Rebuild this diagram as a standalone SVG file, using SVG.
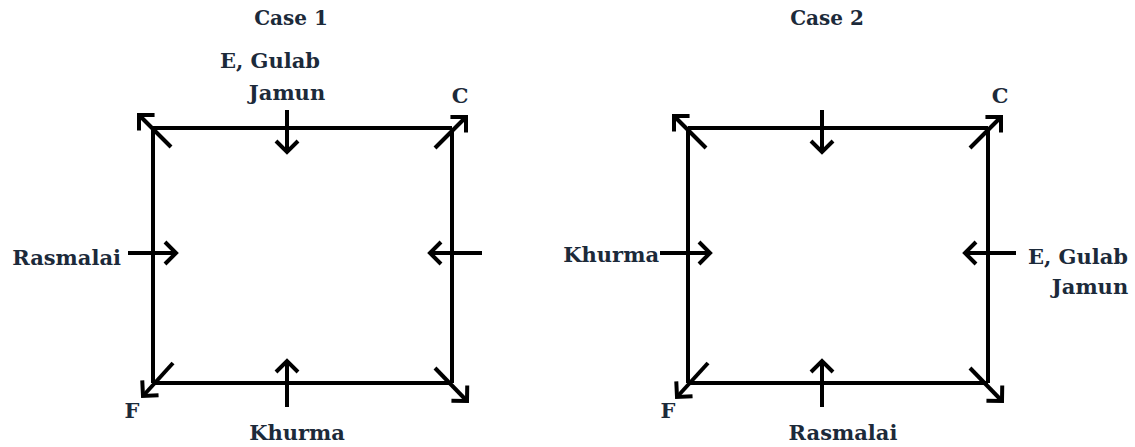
<svg xmlns="http://www.w3.org/2000/svg" width="1135" height="447" viewBox="0 0 1135 447">
<style>
.ln{stroke:#000;stroke-width:4;fill:none}
.ar{stroke:#000;stroke-width:4;fill:none;marker-end:url(#ah)}
text{font-family:"DejaVu Serif","Liberation Serif",serif;font-weight:bold;font-size:21px;fill:#1c2a3a}
.t{font-size:20px}
</style>
<defs>
<marker id="ah" markerUnits="userSpaceOnUse" viewBox="-14 -14 18 28" markerWidth="18" markerHeight="28" refX="0" refY="0" orient="auto" overflow="visible">
<path d="M-11,-11 L0,0 L-11,11" stroke="#000" stroke-width="4" fill="none" stroke-linejoin="miter"/>
</marker>
</defs>
<rect width="1135" height="447" fill="#fff"/>
<g id="connectors">
<path class="ln" d="M153,128 H452 M153,128 V383 M452,128 V383 M153,383 H452"/>
<line class="ar" x1="171" y1="147" x2="139" y2="115"/>
<line class="ar" x1="435" y1="148" x2="466" y2="117"/>
<line class="ar" x1="173" y1="363" x2="143" y2="396"/>
<line class="ar" x1="435" y1="368" x2="467" y2="401"/>
<line class="ar" x1="287" y1="110" x2="287" y2="152"/>
<line class="ar" x1="287" y1="407" x2="287" y2="361"/>
<line class="ar" x1="128" y1="253" x2="176" y2="253"/>
<line class="ar" x1="482" y1="253" x2="430" y2="253"/>
<path class="ln" d="M688,128 H988 M688,128 V383 M988,128 V383 M688,383 H988"/>
<line class="ar" x1="706" y1="148" x2="674" y2="116"/>
<line class="ar" x1="970" y1="148" x2="1001" y2="117"/>
<line class="ar" x1="708" y1="363" x2="677" y2="397"/>
<line class="ar" x1="970" y1="368" x2="1002" y2="401"/>
<line class="ar" x1="822" y1="110" x2="822" y2="152"/>
<line class="ar" x1="822" y1="407" x2="822" y2="361"/>
<line class="ar" x1="660" y1="253" x2="710" y2="253"/>
<line class="ar" x1="1016" y1="253" x2="965" y2="253"/>
</g>
<g id="case1-title"><text class="t" x="291" y="25" text-anchor="middle">Case 1</text></g>
<g id="case1-top"><text x="270" y="68" text-anchor="middle">E, Gulab</text><text x="287" y="100" text-anchor="middle">Jamun</text></g>
<g id="case1-C"><text x="460" y="103" text-anchor="middle">C</text></g>
<g id="case1-left"><text x="121" y="265" text-anchor="end">Rasmalai</text></g>
<g id="case1-F"><text x="132" y="418" text-anchor="middle">F</text></g>
<g id="case1-bottom"><text x="297" y="440" text-anchor="middle">Khurma</text></g>
<g id="case2-title"><text class="t" x="827" y="25" text-anchor="middle">Case 2</text></g>
<g id="case2-C"><text x="1000" y="103" text-anchor="middle">C</text></g>
<g id="case2-left"><text x="659" y="262" text-anchor="end">Khurma</text></g>
<g id="case2-right"><text x="1078" y="264" text-anchor="middle">E, Gulab</text><text x="1090" y="294" text-anchor="middle">Jamun</text></g>
<g id="case2-F"><text x="668" y="418" text-anchor="middle">F</text></g>
<g id="case2-bottom"><text x="843" y="440" text-anchor="middle">Rasmalai</text></g>
</svg>
